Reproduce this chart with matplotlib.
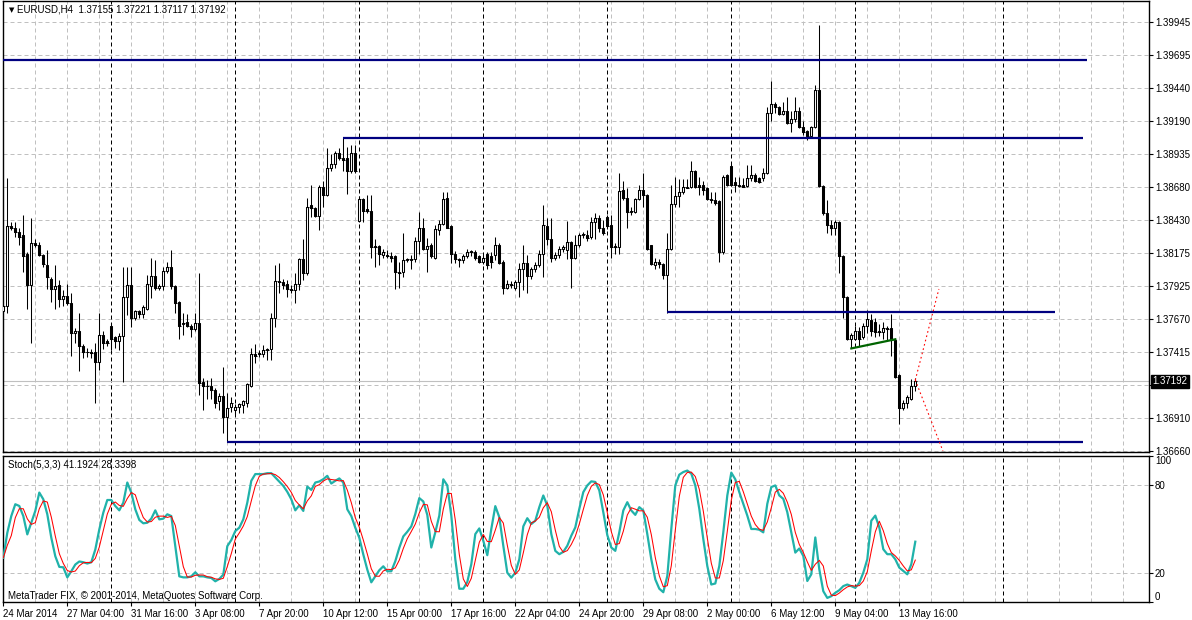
import matplotlib
matplotlib.use("Agg")
import matplotlib.pyplot as plt
import numpy as np
import pandas as pd

plt.rcParams['font.family'] = ['Liberation Sans', 'DejaVu Sans']

# EURUSD H4 candles
opens = [1.3773, 1.3777, 1.3838, 1.3837, 1.3834, 1.3831, 1.3817, 1.3793, 1.3825, 1.3824,
         1.3816, 1.3808, 1.3798, 1.3790, 1.3793, 1.3782, 1.3785, 1.3779, 1.3756, 1.3758,
         1.3746, 1.3742, 1.3742, 1.3742, 1.3734, 1.3755, 1.3750, 1.3762, 1.3753, 1.3750,
         1.3754, 1.3784, 1.3793, 1.3768, 1.3773, 1.3771, 1.3775, 1.3792, 1.3800, 1.3791,
         1.3792, 1.3804, 1.3807, 1.3792, 1.3780, 1.3763, 1.3765, 1.3762, 1.3759, 1.3764,
         1.3719, 1.3716, 1.3716, 1.3713, 1.3704, 1.3708, 1.3692, 1.3700, 1.3697, 1.3700,
         1.3701, 1.3703, 1.3716, 1.3740, 1.3741, 1.3740, 1.3744, 1.3744, 1.3768, 1.3796,
         1.3795, 1.3794, 1.3790, 1.3789, 1.3794, 1.3813, 1.3802, 1.3854, 1.3852, 1.3846,
         1.3868, 1.3862, 1.3883, 1.3886, 1.3894, 1.3890, 1.3890, 1.3880, 1.3894, 1.3842,
         1.3859, 1.3851, 1.3850, 1.3823, 1.3823, 1.3816, 1.3816, 1.3815, 1.3815, 1.3803,
         1.3803, 1.3812, 1.3812, 1.3813, 1.3827, 1.3837, 1.3821, 1.3824, 1.3814, 1.3835,
         1.3840, 1.3860, 1.3838, 1.3817, 1.3813, 1.3812, 1.3815, 1.3819, 1.3818, 1.3815,
         1.3811, 1.3817, 1.3815, 1.3816, 1.3824, 1.3811, 1.3791, 1.3794, 1.3791, 1.3795,
         1.3805, 1.3810, 1.3800, 1.3805, 1.3808, 1.3817, 1.3838, 1.3828, 1.3814, 1.3816,
         1.3821, 1.3820, 1.3826, 1.3814, 1.3824, 1.3831, 1.3831, 1.3830, 1.3841, 1.3844,
         1.3837, 1.3845, 1.3839, 1.3823, 1.3822, 1.3866, 1.3860, 1.3849, 1.3849, 1.3859,
         1.3866, 1.3862, 1.3824, 1.3808, 1.3811, 1.3809, 1.3801, 1.3821, 1.3855, 1.3861,
         1.3864, 1.3868, 1.3868, 1.3880, 1.3870, 1.3870, 1.3867, 1.3859, 1.3858, 1.3857,
         1.3818, 1.3877, 1.3884, 1.3872, 1.3870, 1.3870, 1.3869, 1.3875, 1.3877, 1.3875,
         1.3875, 1.3879, 1.3925, 1.3932, 1.3929, 1.3924, 1.3926, 1.3917, 1.3920, 1.3926,
         1.3914, 1.3911, 1.3907, 1.3914, 1.3942, 1.3869, 1.3848, 1.3839, 1.3837, 1.3841,
         1.3815, 1.3784, 1.3752, 1.3752, 1.3758, 1.3753, 1.3762, 1.3766, 1.3765, 1.3758,
         1.3757, 1.3760, 1.3760, 1.3751, 1.3724, 1.3699, 1.3703, 1.3706, 1.37155]
highs = [1.3784, 1.3875, 1.3841, 1.3841, 1.3837, 1.3847, 1.3818, 1.3844, 1.3828, 1.3826,
         1.3817, 1.3820, 1.3799, 1.3808, 1.3797, 1.3789, 1.3794, 1.3787, 1.3760, 1.3772,
         1.3748, 1.3745, 1.3744, 1.3749, 1.3772, 1.3758, 1.3752, 1.3764, 1.3754, 1.3756,
         1.3807, 1.3807, 1.3807, 1.3774, 1.3774, 1.3778, 1.3801, 1.3814, 1.3812, 1.3794,
         1.3807, 1.3811, 1.3820, 1.3793, 1.3781, 1.3772, 1.3771, 1.3763, 1.3772, 1.3802,
         1.3722, 1.3720, 1.3722, 1.3714, 1.3710, 1.3730, 1.3710, 1.3707, 1.3702, 1.3703,
         1.3705, 1.3718, 1.3745, 1.3748, 1.3743, 1.3747, 1.3745, 1.3772, 1.3808, 1.3810,
         1.3798, 1.3797, 1.3793, 1.3802, 1.3814, 1.3828, 1.3860, 1.3870, 1.3853, 1.3870,
         1.3873, 1.3898, 1.3893, 1.3896, 1.3898, 1.3906, 1.3899, 1.3900, 1.3900, 1.3861,
         1.3860, 1.3862, 1.3862, 1.3828, 1.3824, 1.3821, 1.3820, 1.3818, 1.3816, 1.3811,
         1.3833, 1.3814, 1.3816, 1.3830, 1.3849, 1.3844, 1.3829, 1.3825, 1.3839, 1.3843,
         1.3864, 1.3864, 1.3839, 1.3819, 1.3814, 1.3817, 1.3821, 1.3820, 1.3820, 1.3816,
         1.3816, 1.3818, 1.3818, 1.3830, 1.3825, 1.3812, 1.3797, 1.3796, 1.3797, 1.3810,
         1.3824, 1.3816, 1.3807, 1.3811, 1.3820, 1.3854, 1.3844, 1.3844, 1.3818, 1.3823,
         1.3824, 1.3842, 1.3827, 1.3831, 1.3833, 1.3834, 1.3835, 1.3845, 1.3848, 1.3847,
         1.3843, 1.3847, 1.3847, 1.3825, 1.3879, 1.3873, 1.3867, 1.3853, 1.3860, 1.3870,
         1.3879, 1.3863, 1.3824, 1.3814, 1.3813, 1.3810, 1.3833, 1.3870, 1.3876, 1.3874,
         1.3874, 1.3874, 1.3888, 1.3881, 1.3876, 1.3873, 1.3868, 1.3864, 1.3864, 1.3858,
         1.3877, 1.3878, 1.3886, 1.3876, 1.3876, 1.3875, 1.3885, 1.3885, 1.3879, 1.3876,
         1.3883, 1.3929, 1.3949, 1.3933, 1.3930, 1.3933, 1.3937, 1.3926, 1.3937, 1.3929,
         1.3919, 1.3912, 1.3915, 1.3946, 1.3992, 1.3870, 1.3858, 1.3843, 1.3843, 1.3842,
         1.3816, 1.3785, 1.3756, 1.3762, 1.3761, 1.3764, 1.3774, 1.3771, 1.3768, 1.3763,
         1.3765, 1.3762, 1.3771, 1.3752, 1.3725, 1.3705, 1.3709, 1.3721, 1.37221]
lows = [1.3758, 1.3772, 1.3835, 1.3830, 1.3824, 1.3803, 1.3775, 1.3749, 1.3822, 1.3815,
        1.3807, 1.3790, 1.3780, 1.3775, 1.3776, 1.3777, 1.3778, 1.3739, 1.3749, 1.3727,
        1.3737, 1.3738, 1.3737, 1.3703, 1.3728, 1.3744, 1.3746, 1.3743, 1.3745, 1.3743,
        1.3719, 1.3770, 1.3761, 1.3766, 1.3768, 1.3768, 1.3774, 1.3783, 1.3789, 1.3789,
        1.3789, 1.3802, 1.3790, 1.3772, 1.3752, 1.3755, 1.3761, 1.3753, 1.3758, 1.3709,
        1.3697, 1.3706, 1.3706, 1.3699, 1.3697, 1.3680, 1.3673, 1.3696, 1.3694, 1.3695,
        1.3695, 1.3700, 1.3715, 1.3733, 1.3738, 1.3738, 1.3736, 1.3736, 1.3761, 1.3787,
        1.3790, 1.3784, 1.3787, 1.3779, 1.3789, 1.3797, 1.3801, 1.3845, 1.3845, 1.3835,
        1.3853, 1.3861, 1.3880, 1.3883, 1.3889, 1.3880, 1.3863, 1.3879, 1.3879, 1.3841,
        1.3841, 1.3848, 1.3814, 1.3807, 1.3808, 1.3814, 1.3814, 1.3811, 1.3790, 1.3791,
        1.3799, 1.3811, 1.3805, 1.3811, 1.3817, 1.3820, 1.3803, 1.3814, 1.3813, 1.3831,
        1.3839, 1.3837, 1.3810, 1.3810, 1.3807, 1.3810, 1.3814, 1.3815, 1.3812, 1.3810,
        1.3809, 1.3805, 1.3806, 1.3812, 1.3809, 1.3786, 1.3790, 1.3791, 1.3789, 1.3784,
        1.3789, 1.3787, 1.3798, 1.3803, 1.3807, 1.3799, 1.3824, 1.3811, 1.3812, 1.3814,
        1.3818, 1.3813, 1.3791, 1.3813, 1.3822, 1.3829, 1.3827, 1.3828, 1.3828, 1.3834,
        1.3831, 1.3836, 1.3814, 1.3817, 1.3817, 1.3858, 1.3837, 1.3847, 1.3848, 1.3858,
        1.3853, 1.3820, 1.3808, 1.3805, 1.3806, 1.3798, 1.3772, 1.3820, 1.3853, 1.3853,
        1.3863, 1.3867, 1.3867, 1.3867, 1.3862, 1.3862, 1.3858, 1.3856, 1.3854, 1.3811,
        1.3817, 1.3869, 1.3869, 1.3864, 1.3868, 1.3868, 1.3868, 1.3873, 1.3872, 1.3871,
        1.3873, 1.3878, 1.3919, 1.3925, 1.3923, 1.3923, 1.3916, 1.3910, 1.3918, 1.3913,
        1.3908, 1.3904, 1.3906, 1.3913, 1.3868, 1.3847, 1.3833, 1.3831, 1.3831, 1.3802,
        1.3768, 1.3751, 1.3745, 1.3751, 1.3746, 1.3752, 1.3756, 1.3754, 1.3753, 1.3754,
        1.3752, 1.3751, 1.3739, 1.3722, 1.3687, 1.3697, 1.3699, 1.3705, 1.37117]
closes = [1.3777, 1.3838, 1.3837, 1.3834, 1.3830, 1.3815, 1.3793, 1.3825, 1.3824, 1.3816,
          1.3809, 1.3799, 1.3790, 1.3792, 1.3782, 1.3785, 1.3779, 1.3756, 1.3758, 1.3746,
          1.3742, 1.3742, 1.3741, 1.3734, 1.3755, 1.3749, 1.3749, 1.3752, 1.3750, 1.3754,
          1.3784, 1.3793, 1.3768, 1.3773, 1.3771, 1.3776, 1.3794, 1.3800, 1.3791, 1.3792,
          1.3804, 1.3807, 1.3792, 1.3779, 1.3762, 1.3764, 1.3762, 1.3759, 1.3764, 1.3718,
          1.3716, 1.3716, 1.3713, 1.3703, 1.3708, 1.3692, 1.3699, 1.3703, 1.3700, 1.3702,
          1.3704, 1.3717, 1.3740, 1.3739, 1.3740, 1.3743, 1.3743, 1.3768, 1.3796, 1.3795,
          1.3793, 1.3790, 1.3789, 1.3794, 1.3813, 1.3802, 1.3853, 1.3852, 1.3846, 1.3868,
          1.3862, 1.3883, 1.3886, 1.3894, 1.3890, 1.3889, 1.3880, 1.3894, 1.3880, 1.3859,
          1.3850, 1.3850, 1.3822, 1.3822, 1.3817, 1.3818, 1.3815, 1.3814, 1.3803, 1.3802,
          1.3812, 1.3813, 1.3813, 1.3827, 1.3837, 1.3821, 1.3823, 1.3815, 1.3836, 1.3840,
          1.3859, 1.3837, 1.3817, 1.3813, 1.3812, 1.3815, 1.3818, 1.3818, 1.3814, 1.3811,
          1.3814, 1.3808, 1.3811, 1.3824, 1.3810, 1.3791, 1.3794, 1.3793, 1.3795, 1.3805,
          1.3810, 1.3800, 1.3805, 1.3808, 1.3817, 1.3839, 1.3828, 1.3814, 1.3816, 1.3821,
          1.3822, 1.3826, 1.3814, 1.3824, 1.3831, 1.3832, 1.3829, 1.3841, 1.3844, 1.3837,
          1.3833, 1.3838, 1.3822, 1.3822, 1.3865, 1.3860, 1.3849, 1.3850, 1.3859, 1.3866,
          1.3862, 1.3821, 1.3809, 1.3811, 1.3809, 1.3801, 1.3821, 1.3855, 1.3861, 1.3864,
          1.3868, 1.3867, 1.3880, 1.3868, 1.3868, 1.3866, 1.3859, 1.3858, 1.3856, 1.3818,
          1.3876, 1.3870, 1.3870, 1.3870, 1.3869, 1.3868, 1.3875, 1.3877, 1.3873, 1.3872,
          1.3879, 1.3925, 1.3932, 1.3929, 1.3924, 1.3926, 1.3917, 1.3920, 1.3926, 1.3914,
          1.3910, 1.3907, 1.3914, 1.3942, 1.3869, 1.3848, 1.3839, 1.3837, 1.3841, 1.3815,
          1.3784, 1.3752, 1.3755, 1.3758, 1.3752, 1.3762, 1.3767, 1.3758, 1.3757, 1.3757,
          1.3760, 1.3759, 1.3751, 1.3723, 1.3699, 1.3703, 1.3707, 1.3716, 1.37192]

# Stoch(5,3,3) main line
stoch_main = [30.1, 47.3, 58.8, 66.9, 65.7, 58.8, 46.2, 54.2, 62.3, 74.9,
              70.3, 60.0, 43.9, 31.2, 23.9, 23.6, 16.7, 20.9, 25.5, 27.6,
              27.1, 26.2, 27.1, 35.8, 49.6, 61.1, 69.8, 69.8, 65.7, 62.7,
              68.0, 81.8, 74.9, 63.4, 56.1, 53.8, 54.2, 57.0, 62.7, 56.5,
              57.0, 60.0, 58.8, 38.1, 17.4, 16.7, 16.7, 17.4, 20.2, 17.4,
              17.4, 16.7, 16.3, 14.0, 15.6, 18.6, 38.1, 42.3, 48.5, 50.8,
              56.5, 68.0, 83.0, 87.6, 87.6, 87.6, 88.2, 88.2, 85.3, 82.3,
              79.5, 75.4, 70.3, 62.7, 66.2, 62.3, 79.0, 76.7, 81.8, 82.5,
              84.1, 86.4, 81.1, 83.0, 84.6, 81.8, 63.4, 58.8, 50.8, 43.9,
              32.4, 22.0, 13.3, 17.4, 21.6, 24.3, 20.9, 20.9, 27.8, 37.0,
              44.8, 48.0, 51.7, 60.2, 71.1, 68.8, 59.6, 37.2, 47.6, 59.1,
              84.0, 79.8, 59.1, 29.1, 8.9, 8.9, 13.5, 25.7, 46.4, 50.3,
              41.8, 31.9, 49.9, 65.6, 58.0, 38.4, 19.9, 16.5, 19.9, 29.1,
              51.7, 57.3, 53.3, 55.6, 64.9, 72.9, 66.0, 46.4, 34.9, 32.6,
              34.2, 38.4, 45.3, 51.0, 63.7, 75.2, 79.8, 82.6, 82.2, 76.4,
              61.4, 45.7, 37.2, 34.9, 47.6, 62.6, 68.3, 62.6, 59.6, 64.9,
              62.6, 46.4, 29.1, 15.3, 8.9, 6.5, 17.6, 49.9, 79.8, 87.2,
              89.0, 90.0, 87.9, 79.8, 63.7, 43.0, 24.5, 11.8, 12.5, 24.5,
              47.6, 72.9, 88.6, 84.0, 75.2, 67.2, 59.1, 49.9, 49.9, 49.4,
              47.6, 67.2, 78.7, 79.8, 72.9, 70.6, 61.4, 47.6, 33.7, 36.5,
              31.4, 14.2, 18.8, 44.1, 22.2, 7.2, 2.6, 3.8, 6.1, 7.9,
              10.7, 11.8, 10.7, 9.5, 13.0, 19.9, 29.1, 55.6, 59.1, 51.0,
              36.0, 32.6, 32.6, 29.1, 23.4, 21.1, 18.8, 25.7, 41.1924]

time_labels = ["24 Mar 2014", "27 Mar 04:00", "31 Mar 16:00", "3 Apr 08:00", "7 Apr 20:00",
               "10 Apr 12:00", "15 Apr 00:00", "17 Apr 16:00", "22 Apr 04:00", "24 Apr 20:00",
               "29 Apr 08:00", "2 May 00:00", "6 May 12:00", "9 May 04:00", "13 May 16:00"]
price_ticks = [1.39945, 1.39695, 1.39440, 1.39190, 1.38935, 1.38680, 1.38430,
               1.38175, 1.37925, 1.37670, 1.37415, 1.37165, 1.36910, 1.36660]
week_starts = [27, 58, 89, 120, 151, 182, 213, 250]
bid = 1.37192

# horizontal levels drawn on the chart: (from bar, to bar, price)
levels = [(-1, 271, 1.39653), (85, 270, 1.39056), (166, 263, 1.37723), (56, 270, 1.36727)]
green_x, green_y = [212, 223], [1.37445, 1.37515]
red_up_x, red_up_y = [228, 233.9], [1.37203, 1.3790]
red_dn_x, red_dn_y = [228, 234.9], [1.37203, 1.3666]

o = np.array(opens); h = np.array(highs); l = np.array(lows); c = np.array(closes)
x = np.arange(len(c))
W, H = 1192, 620
xlim = (-0.15, 286.5)

fig = plt.figure(figsize=(W / 100, H / 100), dpi=100)
ax = fig.add_axes([2.7 / W, 1 - 452 / H, 1146.6 / W, 451 / H])
ax2 = fig.add_axes([2.7 / W, 1 - 601.7 / H, 1146.6 / W, 145.7 / H])

grid_kw = dict(color='#c0c0c0', lw=0.72, ls=(0, (4, 3)), zorder=0)
sep_kw = dict(color='black', lw=0.72, ls=(0, (4, 3)), zorder=0.5)

for a in (ax, ax2):
    for gx in range(8, 287, 8):
        a.axvline(gx, **grid_kw)
    for ws in week_starts:
        a.axvline(ws, **sep_kw)
    a.set_xlim(*xlim)
    for s in a.spines.values():
        s.set_linewidth(1.0)

# main price panel
for p in price_ticks:
    ax.axhline(p, **grid_kw)
ax.axhline(bid, color='#c0c0c0', lw=0.8, zorder=0.6)

ax.vlines(x, l, h, color='black', lw=0.75, zorder=2)
up = c >= o
ax.bar(x[up], c[up] - o[up], bottom=o[up], width=0.5, facecolor='white',
       edgecolor='black', lw=0.75, zorder=3)
ax.bar(x[~up], o[~up] - c[~up], bottom=c[~up], width=0.5, facecolor='black',
       edgecolor='black', lw=0.75, zorder=3)
ax.hlines(c, x - 0.3, x + 0.3, color='black', lw=0.75, zorder=3)

for x0, x1, p in levels:
    ax.hlines(p, x0, x1, color='#000080', lw=1.6, zorder=4)
ax.plot(green_x, green_y, color='#006400', lw=1.6, zorder=4)
ax.plot(red_up_x, red_up_y, color='red', lw=0.8, ls=(0, (1.5, 2.5)), zorder=4)
ax.plot(red_dn_x, red_dn_y, color='red', lw=0.8, ls=(0, (1.5, 2.5)), zorder=4)

ax.set_ylim(1.36652, 1.40105)
ax.yaxis.tick_right()
ax.set_yticks(price_ticks)
ax.set_yticklabels(['' if p == 1.37165 else '%.5f' % p for p in price_ticks])
ax.tick_params(axis='y', length=3, width=0.8, pad=1, labelsize=7)
ax.set_xticks([])
ax.annotate('%.5f' % bid, xy=(1, bid), xycoords=('axes fraction', 'data'),
            xytext=(2.5, 0), textcoords='offset points', ha='left', va='center',
            fontsize=7, color='white', annotation_clip=False,
            bbox=dict(boxstyle='square,pad=0.15', facecolor='black', edgecolor='black'))

ax.text(6 / 1146.6, 1 - 9 / 451, '\u25bc', transform=ax.transAxes, fontsize=5,
        family='DejaVu Sans', va='center', ha='left')
ax.text(14 / 1146.6, 1 - 9 / 451,
        'EURUSD,H4  %.5f %.5f %.5f %.5f' % (opens[-1], highs[-1], lows[-1], closes[-1]),
        transform=ax.transAxes, fontsize=7, va='center', ha='left')

# stochastic panel
sig = pd.Series(stoch_main).rolling(3, min_periods=1).mean()
for lv in (20, 80):
    ax2.axhline(lv, **grid_kw)
ax2.plot(x, stoch_main, color='#20b2aa', lw=1.6, zorder=3)
ax2.plot(x, sig, color='red', lw=0.75, zorder=4)
ax2.set_ylim(0, 100)
ax2.yaxis.tick_right()
ax2.set_yticks([0, 20, 80, 100])
ax2.set_yticklabels(['0', '20', '80', '100'])
ax2.tick_params(axis='y', length=3, width=0.8, pad=1, labelsize=7)
lbls = ax2.get_yticklabels()
lbls[0].set_va('bottom')
lbls[-1].set_va('top')

ax2.set_xticks(range(0, 16 * len(time_labels), 16))
ax2.set_xticklabels(time_labels)
ax2.tick_params(axis='x', length=3, width=0.8, pad=2, labelsize=7)
for t in ax2.get_xticklabels():
    t.set_ha('left')

ax2.text(5 / 1146.6, 1 - 9 / 145.7, 'Stoch(5,3,3) %.4f %.4f' % (stoch_main[-1], 28.3398),
         transform=ax2.transAxes, fontsize=7, va='center', ha='left')
ax2.text(5 / 1146.6, 6 / 145.7, 'MetaTrader FIX, \u00a9 2001-2014, MetaQuotes Software Corp.',
         transform=ax2.transAxes, fontsize=7, va='center', ha='left')

fig.savefig('out.png', dpi=100, facecolor='white')
